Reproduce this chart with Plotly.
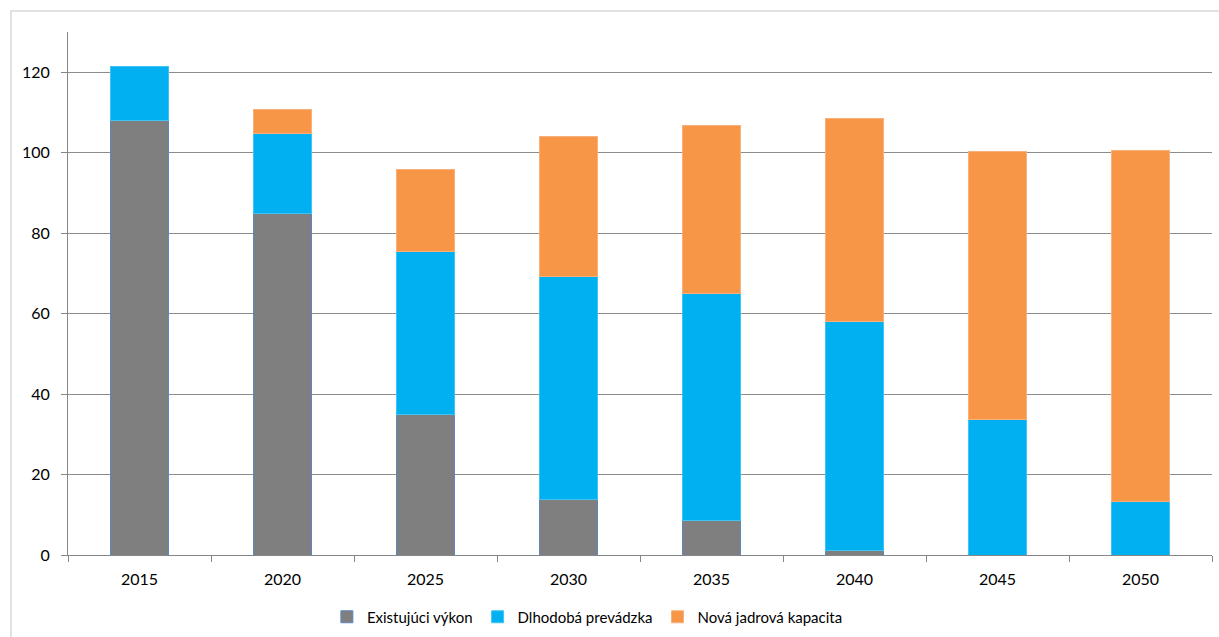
import plotly.graph_objects as go

years = ["2015", "2020", "2025", "2030", "2035", "2040", "2045", "2050"]
existujuci = [108.0, 85.0, 35.0, 13.7, 8.5, 1.0, None, None]
dlhodoba = [13.4, 19.8, 40.5, 55.6, 56.6, 57.1, 33.8, 13.2]
nova = [None, 6.0, 20.4, 34.8, 41.7, 50.5, 66.6, 87.4]

series = [
    ("Existujúci výkon", existujuci, "#7f7f7f", "#5b87c5"),
    ("Dlhodobá prevádzka", dlhodoba, "#00b0f0", "#40c4f4"),
    ("Nová jadrová kapacita", nova, "#f79646", "#f9b07a"),
]

fig = go.Figure()
for name, vals, col, lcol in series:
    fig.add_trace(go.Bar(
        x=years, y=vals, name=name,
        marker=dict(color=col, line=dict(color=lcol, width=1)),
    ))

W, H = 1219, 637
ml, mr, mt, mb = 68, 7, 32, 82
pw, ph = W - ml - mr, H - mt - mb

fig.update_layout(
    width=W, height=H,
    barmode="stack",
    bargap=0.595,
    margin=dict(l=ml, r=mr, t=mt, b=mb),
    plot_bgcolor="white",
    paper_bgcolor="white",
    font=dict(family="Lato, Calibri, sans-serif", size=16, color="#000000"),
    legend=dict(
        orientation="h", x=0.454, xanchor="center",
        yref="container", y=(H - 617) / H, yanchor="middle",
        font=dict(size=15), itemwidth=30, traceorder="normal",
    ),
    xaxis=dict(
        showline=True, linecolor="#868686", linewidth=1,
        ticks="outside", tickson="boundaries", ticklen=6, tickcolor="#868686",
        showgrid=False, tickfont=dict(size=16), ticklabelstandoff=10,
        automargin=False,
    ),
    yaxis=dict(
        range=[0, 130], tickvals=[0, 20, 40, 60, 80, 100, 120],
        showline=True, linecolor="#868686", linewidth=1,
        ticks="outside", ticklen=6, tickcolor="#868686",
        showgrid=True, gridcolor="#8c8c8c", gridwidth=1,
        zeroline=False, tickfont=dict(size=16), ticklabelstandoff=8,
        automargin=False,
    ),
    shapes=[dict(
        type="rect", xref="paper", yref="paper",
        x0=(11 - ml) / pw, x1=(W + 10 - ml) / pw,
        y0=(H - mb - (H + 10)) / ph, y1=(H - mb - 11) / ph,
        line=dict(color="#d9d9d9", width=1.5), fillcolor="rgba(0,0,0,0)",
        layer="below",
    )],
)

fig.write_html("out.html")
